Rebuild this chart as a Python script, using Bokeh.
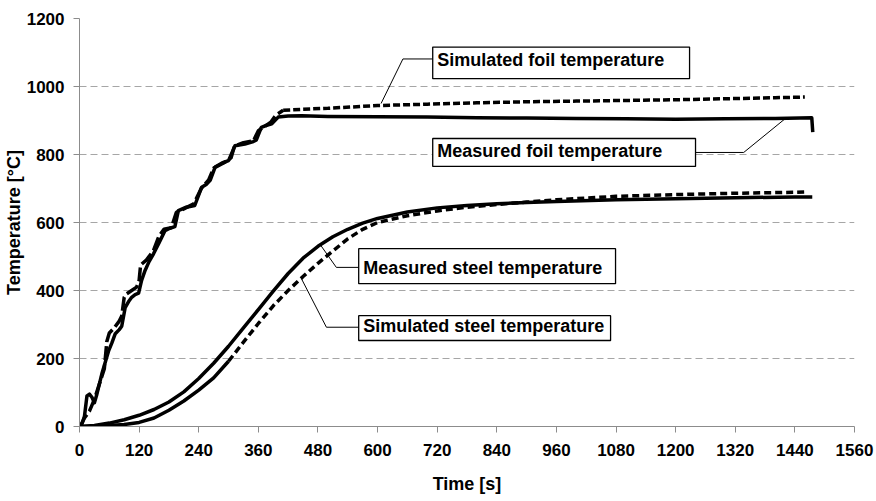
from bokeh.plotting import figure
from bokeh.models import Range1d, FixedTicker, BoxAnnotation, Label
from bokeh.embed import file_html
from bokeh.resources import INLINE

# ---- data ----
meas_foil_t = [0, 5, 10, 15, 20, 25, 30, 35, 45, 52, 59, 65, 72, 80, 85, 92, 100, 105, 112, 119,
               125, 132, 140, 149, 160, 172, 182, 192, 199, 215, 232, 246, 255, 263, 273, 287,
               300, 313, 333, 350, 356, 366, 377, 387, 400, 420, 447, 500, 600, 700, 800, 900,
               1000, 1100, 1200, 1300, 1400, 1450, 1474, 1476]
meas_foil_T = [0, 8, 30, 90, 95, 86, 70, 95, 155, 190, 224, 245, 273, 285, 295, 350, 370, 380, 388, 392,
               430, 459, 485, 508, 540, 576, 583, 588, 635, 645, 650, 704, 712, 724, 763, 775,
               782, 826, 831, 838, 843, 880, 886, 890, 910, 913, 914, 912, 911, 910, 908, 907,
               906, 905, 904, 905, 906, 907, 908, 866]

sim_foil_t = [0, 5, 10, 20, 30, 40, 50, 55, 60, 70, 80, 85, 90, 95, 105, 115, 120, 123, 135, 149,
              160, 170, 185, 195, 210, 230, 245, 260, 270, 290, 305, 312, 330, 350, 360, 375, 385,
              395, 410, 450, 500, 600, 700, 800, 900, 1000, 1100, 1200, 1300, 1400, 1460]
sim_foil_T = [0, 10, 25, 45, 80, 125, 170, 250, 275, 290, 310, 325, 380, 390, 400, 410, 430, 475, 490, 518,
              560, 580, 585, 630, 640, 655, 700, 725, 760, 775, 790, 825, 835, 840, 870, 885, 895,
              915, 930, 933, 936, 944, 948, 952, 955, 957, 959, 961, 964, 967, 969]

meas_steel_t = [0, 30, 60, 90, 120, 150, 180, 210, 240, 270, 300, 330, 360, 390, 420, 450, 480,
                510, 540, 570, 600, 660, 720, 780, 840, 900, 960, 1080, 1200, 1320, 1440, 1475]
meas_steel_T = [0, 3, 10, 20, 33, 50, 72, 102, 141, 186, 236, 290, 344, 398, 450, 495, 530,
                558, 580, 598, 612, 631, 643, 650, 655, 659, 662, 667, 670, 673, 675, 675]

sim_steel_t = [0, 30, 60, 90, 120, 150, 180, 210, 240, 270, 300, 330, 360, 390, 420, 450, 480,
               510, 540, 570, 600, 660, 720, 780, 840, 900, 960, 1080, 1200, 1320, 1440, 1460]
sim_steel_T = [0, 1, 3, 6, 12, 25, 48, 75, 107, 143, 192, 248, 303, 355, 400, 441, 480,
               516, 552, 580, 600, 620, 634, 645, 653, 660, 667, 677, 682, 686, 689, 690]

x_ticks = list(range(0, 1561, 120))
y_ticks = list(range(0, 1201, 200))

FONT = "Liberation Sans"

p = figure(width=874, height=499, output_backend="svg", toolbar_location=None,
           x_range=Range1d(0, 1560), y_range=Range1d(0, 1200),
           min_border_left=78, min_border_right=20, min_border_top=18, min_border_bottom=73)
p.outline_line_color = None
p.background_fill_color = "white"
p.border_fill_color = "white"

p.xgrid.visible = False
p.ygrid.grid_line_color = "#a6a6a6"
p.ygrid.grid_line_dash = "7 4"
p.ygrid.grid_line_width = 1

for ax in (p.xaxis[0], p.yaxis[0]):
    ax.axis_line_color = "#8c8c8c"
    ax.major_tick_line_color = "#8c8c8c"
    ax.minor_tick_line_color = None
    ax.major_tick_in = 0
    ax.major_tick_out = 6
    ax.major_label_text_font = FONT
    ax.major_label_text_font_style = "bold"
    ax.major_label_text_font_size = "17px"
    ax.major_label_text_color = "black"
    ax.axis_label_text_font = FONT
    ax.axis_label_text_font_style = "bold"
    ax.axis_label_text_font_size = "18px"
    ax.axis_label_text_color = "black"

p.xaxis.ticker = FixedTicker(ticks=x_ticks)
p.yaxis.ticker = FixedTicker(ticks=y_ticks)
p.xaxis.axis_label = "Time [s]"
p.yaxis.axis_label = "Temperature [°C]"
p.xaxis.major_label_standoff = 11
p.xaxis.axis_label_standoff = 15
p.yaxis.major_label_standoff = 9
p.yaxis.axis_label_standoff = 0

LW = 3.5
# measured curves (solid)
p.line(meas_foil_t, meas_foil_T, line_color="black", line_width=LW, line_join="round")
p.line(meas_steel_t, meas_steel_T, line_color="black", line_width=LW, line_join="round")

# simulated foil (dashed; long dashes early, short dashes later)
k = sim_foil_t.index(410)
p.line(sim_foil_t[:k + 1], sim_foil_T[:k + 1], line_color="black", line_width=LW,
       line_dash="14 4")
p.line(sim_foil_t[k:], sim_foil_T[k:], line_color="black", line_width=LW, line_dash="7 3")

# simulated steel (solid in the early part, dashed afterwards)
j = sim_steel_t.index(300)
p.line(sim_steel_t[:j + 1], sim_steel_T[:j + 1], line_color="black", line_width=LW,
       line_join="round")
p.line(sim_steel_t[j:], sim_steel_T[j:], line_color="black", line_width=LW, line_dash="7 4")

# ---- callout boxes ----
def callout(left, right, bottom, top, text_y, text):
    p.add_layout(BoxAnnotation(left=left, right=right, bottom=bottom, top=top,
                               fill_color="white", fill_alpha=1.0,
                               line_color="black", line_alpha=1.0, line_width=1.3,
                               level="overlay"))
    p.add_layout(Label(x=left + 9, y=text_y, text=text,
                       text_font=FONT, text_font_style="bold",
                       text_font_size="18px", text_color="black",
                       text_align="left", text_baseline="middle", level="overlay"))

callout(711, 1228, 1023, 1116, 1079, "Simulated foil temperature")
callout(711, 1240, 765, 847, 809, "Measured foil temperature")
callout(562, 1079, 420, 523, 466, "Measured steel temperature")
callout(562, 1069, 253, 326, 295, "Simulated steel temperature")

# leader lines
p.line([711, 651, 607], [1081, 1081, 950], line_color="black", line_width=1)
p.line([1240, 1337, 1421], [806, 806, 906], line_color="black", line_width=1)
p.line([486, 517, 562], [532, 468, 468], line_color="black", line_width=1)
p.line([447, 497, 562], [434, 292, 292], line_color="black", line_width=1)

open("out.html", "w").write(file_html(p, INLINE))
